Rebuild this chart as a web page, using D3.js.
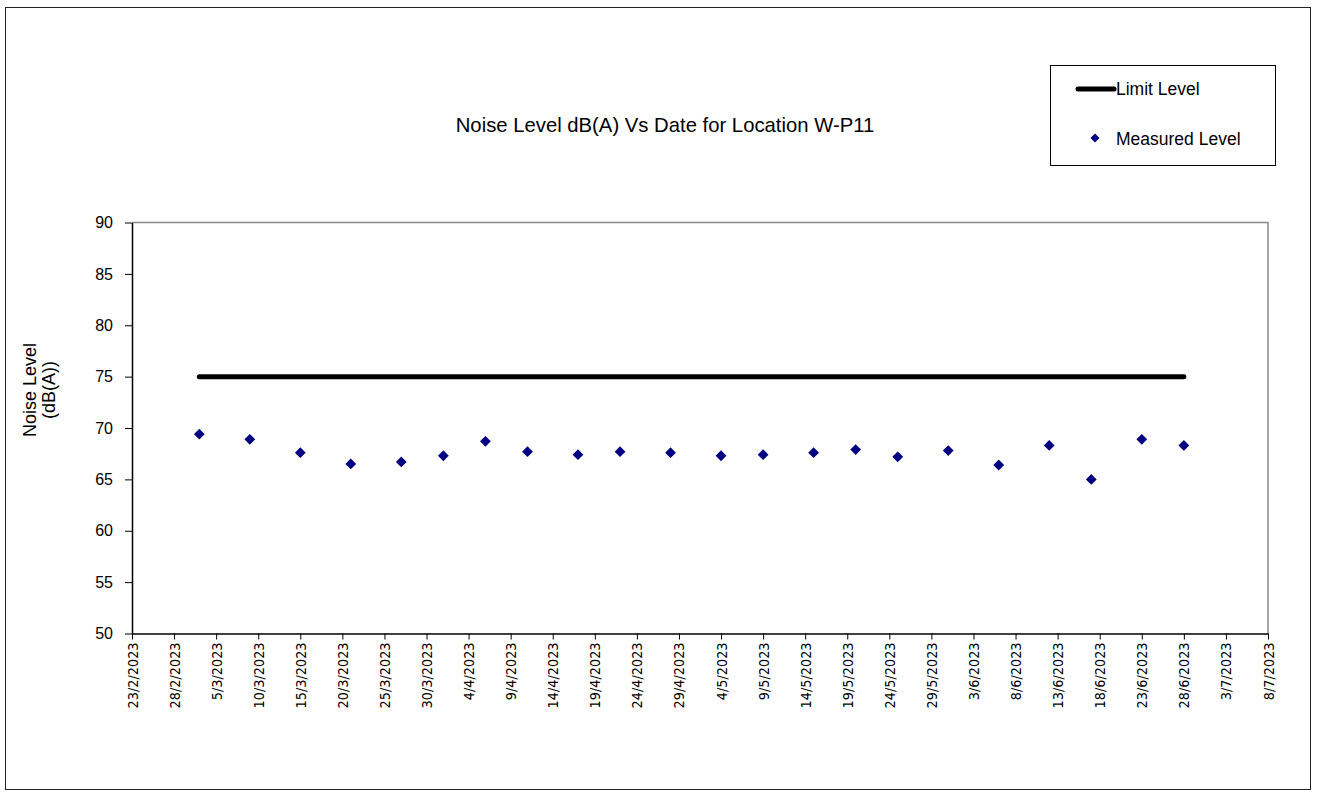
<!DOCTYPE html>
<html>
<head>
<meta charset="utf-8">
<script src="https://cdn.jsdelivr.net/npm/d3@7"></script>
<style>
  body { margin: 0; background: #fff; }
  svg { display: block; }
</style>
</head>
<body>
<svg></svg>
<script>
    /* chart data */
    let title = "Noise Level dB(A) Vs Date for Location W-P11";
    let measuredDates = ["2023-03-03","2023-03-09","2023-03-15","2023-03-21","2023-03-27","2023-04-01","2023-04-06","2023-04-11",
        "2023-04-17","2023-04-22","2023-04-28","2023-05-04","2023-05-09","2023-05-15","2023-05-20","2023-05-25",
        "2023-05-31","2023-06-06","2023-06-12","2023-06-17","2023-06-23","2023-06-28"];
    let measuredValues = [69.4, 68.9, 67.6, 66.5, 66.7, 67.3, 68.7, 67.7,
        67.4, 67.7, 67.6, 67.3, 67.4, 67.6, 67.9, 67.2,
        67.8, 66.4, 68.3, 65.0, 68.9, 68.3];
    let limitDates = ["2023-03-03", "2023-06-28"];
    let limitValues = [75, 75];
    let xDomain = ["2023-02-23", "2023-07-08"];
    let yTicks = [50, 55, 60, 65, 70, 75, 80, 85, 90];

    let width = 1317;
    let height = 796;
    let plot = {left: 132, right: 1268, top: 222.5, bottom: 633.5};
    let sans = "Liberation Sans, Arial, sans-serif";

    const parse = d3.utcParse("%Y-%m-%d");
    const fmt = d3.utcFormat("%-d/%-m/%Y");

    const svg = d3.select("svg").attr("width", width).attr("height", height);

    // outer frame
    svg.append("rect").attr("x", 5.5).attr("y", 7.5).attr("width", 1305).attr("height", 782)
        .attr("fill", "none").attr("stroke", "#222").attr("stroke-width", 1);

    const xScale = d3.scaleUtc().domain(xDomain.map(parse)).range([plot.left, plot.right]);
    const yScale = d3.scaleLinear().domain([50, 90]).range([plot.bottom, plot.top]);

    // plot area border (top & right grey)
    svg.append("path")
        .attr("d", `M${plot.left},${plot.top}H${plot.right}V${plot.bottom}`)
        .attr("fill", "none").attr("stroke", "#888").attr("stroke-width", 1.5);

    // x ticks every 5 days
    let xTicks = d3.range(0, 136, 5).map(d => d3.utcDay.offset(parse(xDomain[0]), d));
    let xAxis = d3.axisBottom(xScale).tickValues(xTicks).tickFormat(fmt).tickSize(6).tickSizeOuter(0);
    let gx = svg.append("g").attr("transform", "translate(0," + plot.bottom + ")").call(xAxis);
    gx.select(".domain").attr("stroke", "#000").attr("stroke-width", 1.5);
    gx.selectAll(".tick line").attr("stroke", "#000");
    gx.selectAll(".tick text")
        .attr("font-family", "DejaVu Sans Condensed, DejaVu Sans, sans-serif").attr("font-size", 14.3).attr("fill", "#000")
        .attr("transform", "rotate(-90)")
        .attr("text-anchor", "end")
        .attr("x", -9).attr("y", 0).attr("dy", "0.35em");

    let yAxis = d3.axisLeft(yScale).tickValues(yTicks).tickSize(7).tickSizeOuter(0);
    let gy = svg.append("g").attr("transform", "translate(" + plot.left + ",0)").call(yAxis);
    gy.select(".domain").attr("stroke", "#000").attr("stroke-width", 1.5);
    gy.selectAll(".tick line").attr("stroke", "#000");
    gy.selectAll(".tick text")
        .attr("font-family", sans).attr("font-size", 16).attr("fill", "#000")
        .attr("x", -19);

    // limit line
    let limitData = limitDates.map((d, i) => [parse(d), limitValues[i]]);
    svg.append("path").datum(limitData)
        .attr("d", d3.line().x(d => xScale(d[0])).y(d => yScale(d[1])))
        .attr("fill", "none").attr("stroke", "#000").attr("stroke-width", 5).attr("stroke-linecap", "round");

    // measured points
    let diamond = d3.symbol().type(d3.symbolSquare).size(58);
    svg.selectAll(".pt").data(measuredDates.map((d, i) => [parse(d), measuredValues[i]]))
        .enter().append("path").attr("class", "pt")
        .attr("d", diamond)
        .attr("transform", d => `translate(${xScale(d[0])},${yScale(d[1])}) rotate(45)`)
        .attr("fill", "#000080");

    // title
    svg.append("text").attr("x", 665).attr("y", 132).attr("text-anchor", "middle")
        .attr("font-family", sans).attr("font-size", 20.3).text(title);

    // y axis title
    let yt = svg.append("text").attr("transform", "translate(40,390) rotate(-90)")
        .attr("text-anchor", "middle").attr("font-family", sans).attr("font-size", 18);
    yt.append("tspan").attr("x", 0).attr("dy", "-0.2em").text("Noise Level");
    yt.append("tspan").attr("x", 0).attr("dy", "1.05em").text("(dB(A))");

    // legend
    let lg = svg.append("g").attr("transform", "translate(1050,65)");
    lg.append("rect").attr("x", 0.5).attr("y", 0.5).attr("width", 225).attr("height", 100)
        .attr("fill", "#fff").attr("stroke", "#000").attr("stroke-width", 1);
    lg.append("line").attr("x1", 28).attr("x2", 64).attr("y1", 24).attr("y2", 24)
        .attr("stroke", "#000").attr("stroke-width", 5).attr("stroke-linecap", "round");
    lg.append("text").attr("x", 66).attr("y", 30).attr("font-family", sans)
        .attr("font-size", 17.5).text("Limit Level");
    lg.append("path").attr("d", d3.symbol().type(d3.symbolSquare).size(40))
        .attr("transform", "translate(45,73) rotate(45)").attr("fill", "#000080");
    lg.append("text").attr("x", 66).attr("y", 80).attr("font-family", sans)
        .attr("font-size", 17.5).text("Measured Level");
</script>
</body>
</html>
